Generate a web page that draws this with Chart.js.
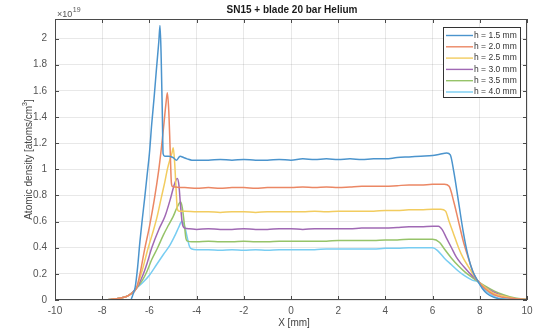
<!DOCTYPE html>
<html><head><meta charset="utf-8">
<script src="https://cdn.jsdelivr.net/npm/chart.js@4"></script>
<style>html,body{margin:0;padding:0;background:#fff}</style>
</head><body>
<canvas id="c" width="539" height="330"></canvas>
<script>
const titleText = 'SN15 + blade 20 bar Helium';
const xLabel = 'X [mm]';
const yLabelMain = 'Atomic density [atoms/cm';
const yLabelSup = '3';
const yLabelEnd = ']';
const labels = ['h = 1.5 mm','h = 2.0 mm','h = 2.5 mm','h = 3.0 mm','h = 3.5 mm','h = 4.0 mm'];
const colors = ['rgb(75,148,205)','rgb(235,135,100)','rgb(242,204,95)','rgb(160,105,180)','rgb(150,195,105)','rgb(120,205,242)'];

const xBlue = [-10,-8,-7,-6.8,-6.7,-6.6,-6.5,-6.4,-6.3,-6.2,-6.1,-6.0,-5.9,-5.8,-5.7,-5.6,-5.55,-5.5,-5.45,-5.42,-5.35,-5.2,-5.0,-4.85,-4.7,-4.55,-4.4,-4.2,-4.0,-3.5,-3.0,-2.5,-2.0,-1.5,-1.0,-0.5,0,0.5,1,1.5,2,2.5,3,3.5,4,4.5,5,5.5,6,6.3,6.6,6.75,6.9,7.1,7.3,7.5,7.7,7.9,8.1,8.3,8.6,9,10];
const yBlue = [0,0,0,0,0.04,0.1,0.25,0.45,0.62,0.78,0.95,1.12,1.35,1.55,1.77,1.98,2.1,1.85,1.4,1.12,1.1,1.1,1.09,1.07,1.1,1.09,1.08,1.07,1.07,1.07,1.075,1.07,1.075,1.07,1.07,1.075,1.07,1.08,1.075,1.08,1.075,1.08,1.075,1.08,1.08,1.09,1.095,1.1,1.105,1.115,1.125,1.11,0.98,0.75,0.52,0.34,0.22,0.15,0.09,0.05,0.02,0.005,0];

const xOrange = [-10,-8,-7.5,-7,-6.8,-6.55,-6.4,-6.2,-6.0,-5.8,-5.6,-5.5,-5.4,-5.3,-5.24,-5.18,-5.12,-5.07,-5.03,-4.9,-4.7,-4.5,-4.0,-3.5,-3.0,-2.5,-2.0,-1.5,-1.0,-0.5,0,0.5,1,1.5,2,2.5,3,3.5,4,4.5,5,5.5,6,6.5,6.7,6.9,7.1,7.3,7.5,7.7,7.9,8.2,8.6,9,9.5,10];
const yOrange = [0,0,0.008,0.025,0.045,0.09,0.2,0.39,0.56,0.76,1.0,1.15,1.32,1.5,1.585,1.45,1.15,0.9,0.87,0.865,0.86,0.86,0.855,0.86,0.855,0.86,0.86,0.855,0.86,0.86,0.86,0.865,0.86,0.865,0.86,0.865,0.87,0.87,0.87,0.875,0.88,0.88,0.885,0.885,0.87,0.75,0.6,0.45,0.33,0.22,0.15,0.09,0.04,0.02,0.01,0];

const xYellow = [-10,-8,-7.5,-7,-6.8,-6.55,-6.3,-6.05,-5.85,-5.67,-5.5,-5.35,-5.24,-5.12,-5.05,-4.99,-4.93,-4.87,-4.82,-4.75,-4.5,-4.0,-3.5,-3.0,-2.5,-2.0,-1.5,-1.0,-0.5,0,0.5,1,1.5,2,2.5,3,3.5,4,4.5,5,5.5,6,6.35,6.55,6.7,6.9,7.1,7.3,7.5,7.7,7.9,8.2,8.6,9,9.5,10];
const yYellow = [0,0,0.008,0.025,0.045,0.09,0.23,0.4,0.52,0.64,0.78,0.9,1.0,1.08,1.12,1.165,1.05,0.85,0.7,0.68,0.68,0.675,0.675,0.67,0.675,0.675,0.67,0.675,0.675,0.675,0.675,0.68,0.675,0.68,0.68,0.68,0.68,0.685,0.685,0.69,0.69,0.695,0.695,0.68,0.6,0.5,0.4,0.32,0.26,0.2,0.15,0.1,0.05,0.03,0.01,0.005];

const xPurple = [-10,-8,-7.5,-7,-6.8,-6.55,-6.3,-6.1,-5.9,-5.6,-5.34,-5.1,-4.95,-4.82,-4.75,-4.68,-4.6,-4.5,-4.3,-4.0,-3.5,-3.0,-2.5,-2.0,-1.5,-1.0,-0.5,0,0.5,1,1.5,2,2.5,3,3.5,4,4.5,5,5.5,6,6.25,6.4,6.6,6.8,7.0,7.2,7.4,7.6,7.9,8.2,8.6,9,9.5,10];
const yPurple = [0,0,0.008,0.025,0.045,0.09,0.18,0.28,0.4,0.54,0.64,0.78,0.88,0.93,0.88,0.72,0.58,0.55,0.545,0.54,0.545,0.54,0.54,0.545,0.54,0.54,0.545,0.545,0.54,0.545,0.545,0.545,0.545,0.55,0.55,0.55,0.555,0.56,0.56,0.565,0.565,0.54,0.47,0.4,0.33,0.28,0.24,0.2,0.15,0.1,0.06,0.03,0.01,0.005];

const xGreen = [-10,-8,-7.5,-7,-6.8,-6.55,-6.3,-6.1,-5.9,-5.65,-5.4,-5.2,-4.99,-4.85,-4.72,-4.67,-4.6,-4.52,-4.45,-4.38,-4.2,-4.0,-3.5,-3.0,-2.5,-2.0,-1.5,-1.0,-0.5,0,0.5,1,1.5,2,2.5,3,3.5,4,4.5,5,5.5,6,6.3,6.5,6.8,7.1,7.4,7.7,7.9,8.2,8.6,9,9.5,10];
const yGreen = [0,0,0.008,0.025,0.045,0.09,0.15,0.22,0.31,0.4,0.5,0.57,0.64,0.7,0.745,0.75,0.7,0.58,0.47,0.45,0.445,0.445,0.45,0.445,0.445,0.45,0.445,0.445,0.45,0.45,0.45,0.45,0.45,0.455,0.455,0.455,0.455,0.46,0.46,0.465,0.465,0.465,0.44,0.39,0.32,0.26,0.21,0.17,0.145,0.11,0.07,0.04,0.015,0.005];

const xCyan = [-10,-8,-7.5,-7,-6.8,-6.55,-6.3,-6.0,-5.7,-5.4,-5.13,-4.9,-4.75,-4.63,-4.5,-4.4,-4.3,-4.2,-4.0,-3.5,-3.0,-2.5,-2.0,-1.5,-1.0,-0.5,0,0.5,1,1.5,2,2.5,3,3.5,4,4.5,5,5.5,6,6.2,6.5,6.8,7.1,7.4,7.7,7.9,8.1,8.4,8.7,9,9.5,10];
const yCyan = [0,0,0.008,0.025,0.045,0.09,0.13,0.19,0.27,0.35,0.42,0.5,0.56,0.6,0.56,0.48,0.41,0.39,0.385,0.385,0.38,0.385,0.38,0.385,0.38,0.385,0.385,0.385,0.385,0.39,0.39,0.39,0.39,0.39,0.395,0.395,0.4,0.4,0.4,0.38,0.32,0.27,0.22,0.18,0.15,0.14,0.1,0.05,0.02,0.01,0.005,0];

const xTicks = [-10,-8,-6,-4,-2,0,2,4,6,8,10];
const yTicks = [0,0.2,0.4,0.6,0.8,1,1.2,1.4,1.6,1.8,2];

const xs = [xBlue,xOrange,xYellow,xPurple,xGreen,xCyan];
const ys = [yBlue,yOrange,yYellow,yPurple,yGreen,yCyan];

const datasets = labels.map((lab,i)=>({
  label: lab,
  data: xs[i].map((xv,j)=>({x:xv,y:ys[i][j]})),
  borderColor: colors[i],
  backgroundColor: colors[i],
  borderWidth: 1.5,
  pointRadius: 0,
  cubicInterpolationMode: 'monotone',
  fill: false
}));

const FONT = '"Liberation Sans", Arial, Helvetica, sans-serif';

const decor = {
  id: 'decor',
  afterDraw(chart){
    const {ctx, chartArea:a, scales:{x,y}} = chart;
    ctx.save();
    ctx.strokeStyle = '#4a4a4a'; ctx.lineWidth = 1;
    ctx.strokeRect(Math.round(a.left)+0.5, Math.round(a.top)+0.5, Math.round(a.right-a.left)-1, Math.round(a.bottom-a.top)-1);
    ctx.beginPath();
    xTicks.forEach(v=>{
      const p = Math.round(x.getPixelForValue(v))+0.5;
      ctx.moveTo(p,a.bottom); ctx.lineTo(p,a.bottom-4);
      ctx.moveTo(p,a.top); ctx.lineTo(p,a.top+4);
    });
    yTicks.forEach(v=>{
      const p = Math.round(y.getPixelForValue(v))+0.5;
      ctx.moveTo(a.left,p); ctx.lineTo(a.left+4,p);
      ctx.moveTo(a.right,p); ctx.lineTo(a.right-4,p);
    });
    ctx.stroke();
    // title
    ctx.fillStyle = '#1a1a1a';
    ctx.font = 'bold 10px ' + FONT;
    ctx.textAlign = 'center'; ctx.textBaseline = 'middle';
    ctx.fillText(titleText, (a.left+a.right)/2+1, 10);
    // exponent
    ctx.fillStyle = '#555';
    ctx.textAlign = 'left'; ctx.textBaseline = 'alphabetic';
    ctx.font = '9px ' + FONT;
    ctx.fillText('\u00d710', a.left+2, 17);
    const w10 = ctx.measureText('\u00d710').width;
    ctx.font = '7px ' + FONT;
    ctx.fillText('19', a.left+2+w10+0.5, 12);
    // x label
    ctx.font = '10px ' + FONT;
    ctx.fillStyle = '#444';
    ctx.textAlign = 'center'; ctx.textBaseline = 'middle';
    ctx.fillText(xLabel, (a.left+a.right)/2+3, 323);
    // y label
    ctx.save();
    ctx.translate(29, (a.top+a.bottom)/2);
    ctx.rotate(-Math.PI/2);
    ctx.font = '10px ' + FONT;
    const w1 = ctx.measureText(yLabelMain).width;
    ctx.font = '7px ' + FONT;
    const w2 = ctx.measureText(yLabelSup).width;
    ctx.font = '10px ' + FONT;
    const w3 = ctx.measureText(yLabelEnd).width;
    let sx = -(w1+w2+w3)/2;
    ctx.textAlign = 'left'; ctx.textBaseline = 'middle';
    ctx.fillText(yLabelMain, sx, 0);
    ctx.font = '7px ' + FONT;
    ctx.fillText(yLabelSup, sx+w1, -4);
    ctx.font = '10px ' + FONT;
    ctx.fillText(yLabelEnd, sx+w1+w2, 0);
    ctx.restore();
    // legend
    const lx = 443, ly = 27, lw = 77, lh = 70;
    ctx.fillStyle = '#fff';
    ctx.fillRect(lx, ly, lw, lh);
    ctx.strokeStyle = '#333';
    ctx.strokeRect(lx+0.5, ly+0.5, lw, lh);
    ctx.font = '8.5px ' + FONT;
    ctx.textAlign = 'left'; ctx.textBaseline = 'middle';
    chart.data.datasets.forEach((ds,i)=>{
      const yy = 35.5 + i*11.3;
      ctx.strokeStyle = ds.borderColor; ctx.lineWidth = 1.4;
      ctx.beginPath(); ctx.moveTo(446, yy); ctx.lineTo(473, yy); ctx.stroke();
      ctx.fillStyle = '#333';
      ctx.fillText(ds.label, 474, yy);
    });
    ctx.restore();
  }
};

new Chart(document.getElementById('c'), {
  type: 'line',
  data: { datasets },
  options: {
    responsive: false,
    animation: false,
    devicePixelRatio: 1,
    layout: { padding: { left: 0, right: 12, top: 19, bottom: 0 } },
    plugins: { legend: { display: false }, title: { display: false }, tooltip: { enabled: false } },
    scales: {
      x: {
        type: 'linear', min: -10, max: 10,
        afterFit(s){ s.height = 30; },
        afterBuildTicks(s){ s.ticks = xTicks.map(v=>({value:v})); },
        ticks: { stepSize: 2, padding: 5, color: '#555', font: { size: 10, family: FONT }, maxRotation: 0, autoSkip: false, callback: v => String(v) },
        grid: { color: 'rgba(0,0,0,0.09)', drawTicks: false, tickLength: 0 },
        border: { display: false }
      },
      y: {
        type: 'linear', min: 0, max: 2.15,
        afterFit(s){ s.width = 55; },
        afterBuildTicks(s){ s.ticks = yTicks.map(v=>({value:v})); },
        ticks: { stepSize: 0.2, padding: 8, color: '#555', font: { size: 10, family: FONT }, autoSkip: false, callback: v => String(Math.round(v*10)/10) },
        grid: { color: 'rgba(0,0,0,0.09)', drawTicks: false, tickLength: 0 },
        border: { display: false }
      }
    }
  },
  plugins: [decor]
});
</script>
</body></html>
